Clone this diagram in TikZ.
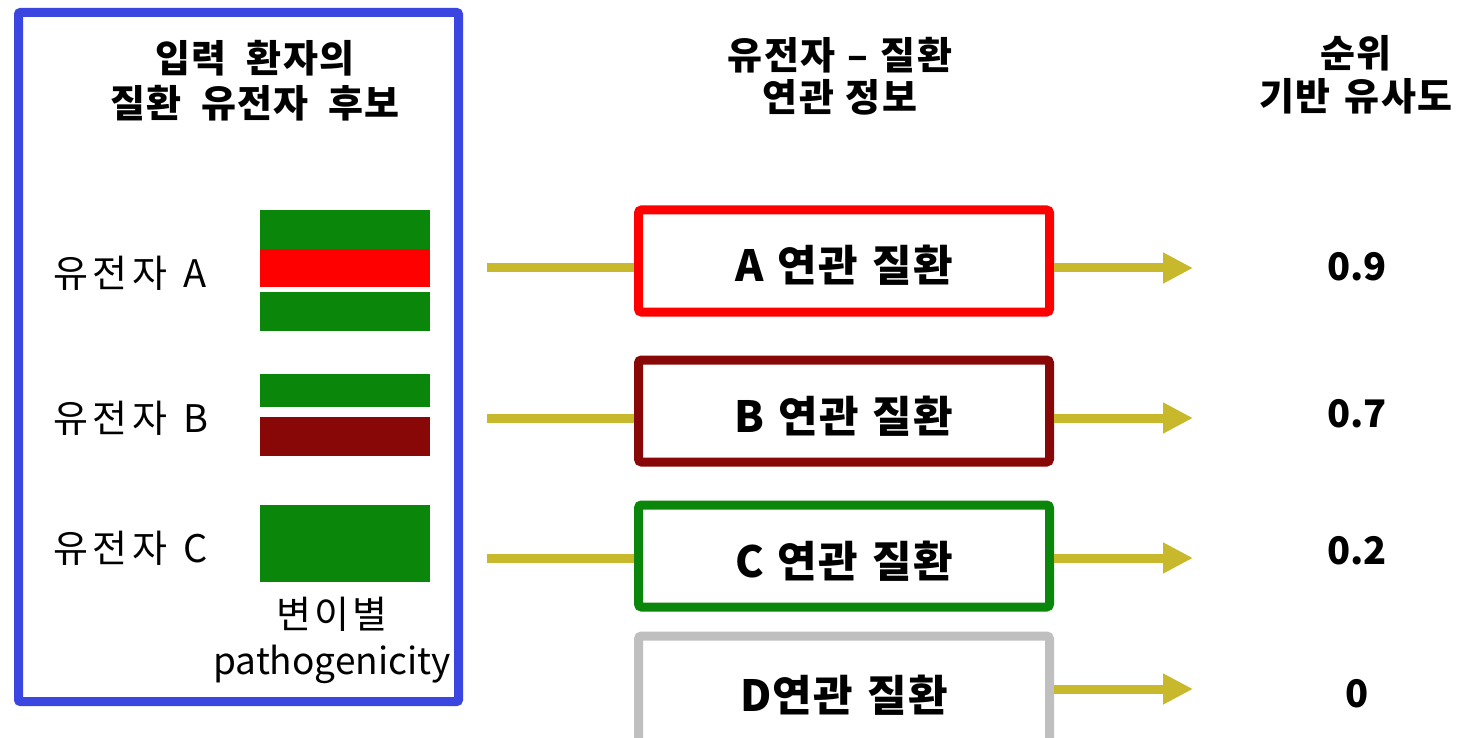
\documentclass[tikz,border=0pt]{standalone}
\usepackage{fontspec}
\setmainfont{Noto Sans CJK KR}
\usetikzlibrary{arrows.meta}
\definecolor{frameblue}{HTML}{3B46E0}
\definecolor{vgreen}{HTML}{0A870A}
\definecolor{vred}{HTML}{FF0000}
\definecolor{vdark}{HTML}{880808}
\definecolor{vgray}{HTML}{BFBFBF}
\definecolor{flowcol}{HTML}{C8B82C}
\newcommand{\gapw}[1]{\hspace{#1}}
\begin{document}
\begin{tikzpicture}[x=1pt,y=-1pt,
  hdr/.style={font=\fontsize{38}{43}\selectfont\bfseries\addfontfeatures{LetterSpace=4}, align=center, inner sep=0},
  glabel/.style={font=\fontsize{38}{44}\selectfont\addfontfeatures{LetterSpace=12}, anchor=west, inner sep=0},
  bar/.style={minimum width=170pt, inner sep=0, draw=none},
  dbox/.style={draw, line width=9pt, fill=white, minimum width=411pt, minimum height=102pt, rounded corners=3pt, inner sep=0, text height=46pt, text depth=4pt, font=\fontsize{43}{48}\selectfont\bfseries\addfontfeatures{LetterSpace=3}},
  val/.style={font=\fontsize{38}{44}\selectfont\bfseries, inner sep=0},
  lineconn/.style={draw=flowcol, line width=9pt},
  flow/.style={draw=flowcol, line width=9pt, -{Triangle[length=30pt,width=29pt]}}
]
\useasboundingbox (0,0) rectangle (1465,738);
\fill[white] (0,0) rectangle (1465,738);

% left frame
\node[draw=frameblue, line width=9pt, minimum width=440pt, minimum height=689pt, inner sep=0, rounded corners=2pt] (frame) at (238.5,357) {};
\node[hdr, font=\fontsize{38}{45}\selectfont\bfseries\addfontfeatures{LetterSpace=3}] (title) at (255,81) {입력\gapw{20pt}환자의\\질환\gapw{20pt}유전자\gapw{20pt}후보};

% gene labels
\node[glabel] (gA) at (53,273) {유전자\gapw{16pt}A};
\node[glabel] (gB) at (53,418) {유전자\gapw{16pt}B};
\node[glabel] (gC) at (53,548) {유전자\gapw{16pt}C};

% bars
\node[bar, fill=vgreen, minimum height=39pt] (a1) at (345,229.5) {};
\node[bar, fill=vred, minimum height=38pt] (a2) at (345,268) {};
\node[bar, fill=vgreen, minimum height=39pt] (a3) at (345,311) {};
\node[bar, fill=vgreen, minimum height=33pt] (b1) at (345,390.5) {};
\node[bar, fill=vdark, minimum height=39pt] (b2) at (345,436.5) {};
\node[bar, fill=vgreen, minimum height=77pt] (c1) at (345,543) {};

\node[font=\fontsize{38}{46}\selectfont, align=center, inner sep=0] (note) at (332,640) {변\gapw{3pt}이\gapw{3pt}별\\\fontsize{37}{46}\selectfont pathogenicity};

% headers
\node[hdr, font=\fontsize{38}{42}\selectfont\bfseries\addfontfeatures{LetterSpace=4}] (h2) at (840,76) {유전자\gapw{12pt}–\gapw{12pt}질환\\연관\gapw{12pt}정보};
\node[hdr] (h3) at (1356,75) {순위\\기반\gapw{14pt}유사도};

% disease boxes
\node[dbox, draw=vred] (dA) at (844,261) {A\gapw{14pt}연관\gapw{14pt}질환};
\node[dbox, draw=vdark] (dB) at (844,411) {B\gapw{14pt}연관\gapw{14pt}질환};
\node[dbox, draw=vgreen] (dC) at (844,556) {C\gapw{14pt}연관\gapw{14pt}질환};
\node[dbox, draw=vgray, minimum height=114pt, text height=40pt] (dD) at (844,693) {D연관\gapw{14pt}질환};

% connectors
\coordinate (lA) at (487,268);
\coordinate (lB) at (487,418);
\coordinate (lC) at (487,558);
\coordinate (rA) at (1193,268);
\coordinate (rB) at (1193,418);
\coordinate (rC) at (1193,558);
\coordinate (rD) at (1193,689);
\draw[lineconn] (lA) -- (lA -| dA.west);
\draw[lineconn] (lB) -- (lB -| dB.west);
\draw[lineconn] (lC) -- (lC -| dC.west);
\draw[flow] (rA -| dA.east) -- (rA);
\draw[flow] (rB -| dB.east) -- (rB);
\draw[flow] (rC -| dC.east) -- (rC);
\draw[flow] (rD -| dD.east) -- (rD);

% values
\node[val] (vA) at (1357,267) {0.9};
\node[val] (vB) at (1357,414) {0.7};
\node[val] (vC) at (1357,551) {0.2};
\node[val] (vD) at (1357,694) {0};
\end{tikzpicture}
\end{document}
